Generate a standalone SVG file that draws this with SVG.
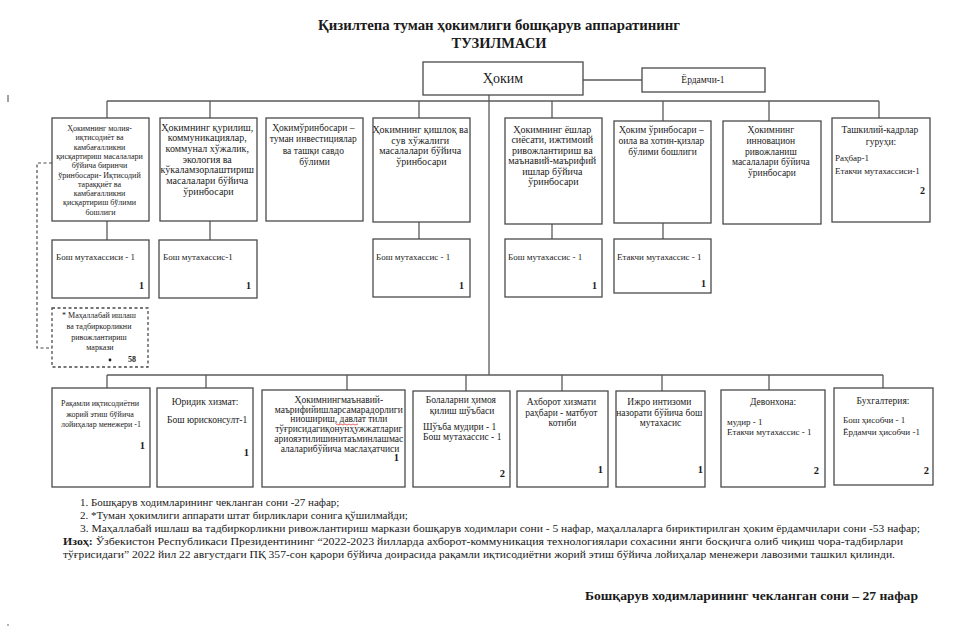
<svg xmlns="http://www.w3.org/2000/svg" width="978" height="638" viewBox="0 0 978 638" font-family="Liberation Serif, serif">
<style>
.bg{fill:#ffffff}
.box{fill:#ffffff;stroke:#4a4a4a;stroke-width:1.3}
.dbox{fill:#ffffff;stroke:#4a4a4a;stroke-width:1.3;stroke-dasharray:3,2.5}
.ln{stroke:#5a5a5a;stroke-width:1.3;fill:none}
.dln{stroke:#4a4a4a;stroke-width:1.2;fill:none;stroke-dasharray:3,2.5}
text{font-family:'Liberation Serif','Times New Roman',Times,serif;fill:#1a1a1a}
.c{text-anchor:middle}
.e{text-anchor:end}
.b{font-weight:bold}
.t{font-size:14.5px;font-weight:bold}
.f8{font-size:8px}
.f9{font-size:9px}
.f95{font-size:9.5px}
.f10{font-size:10px}
.n{font-size:11px}
</style>
<rect class="bg" x="0" y="0" width="978" height="638"/>
<line x1="8" y1="95" x2="8" y2="102" stroke="#444" stroke-width="1"/>
<circle cx="8" cy="625" r="0.8" fill="#555"/>

<g id="title">
<text class="t c" x="499" y="30" textLength="362" lengthAdjust="spacingAndGlyphs">Қизилтепа туман ҳокимлиги бошқарув аппаратининг</text>
<text class="t c" x="499" y="48">ТУЗИЛМАСИ</text>
</g>

<g id="connectors">
<line class="ln" x1="583" y1="80" x2="642" y2="80"/>
<line class="ln" x1="489" y1="95" x2="489" y2="375"/>
<line class="ln" x1="107" y1="101" x2="879" y2="101"/>
<line class="ln" x1="107" y1="101" x2="107" y2="118"/>
<line class="ln" x1="210" y1="101" x2="210" y2="118"/>
<line class="ln" x1="419" y1="101" x2="419" y2="118"/>
<line class="ln" x1="552" y1="101" x2="552" y2="118"/>
<line class="ln" x1="663" y1="101" x2="663" y2="121"/>
<line class="ln" x1="769" y1="101" x2="769" y2="121"/>
<line class="ln" x1="879" y1="101" x2="879" y2="118"/>
<line class="ln" x1="107" y1="221" x2="107" y2="240"/>
<line class="ln" x1="210" y1="221" x2="210" y2="240"/>
<line class="ln" x1="419" y1="222" x2="419" y2="239"/>
<line class="ln" x1="552" y1="224" x2="552" y2="239"/>
<line class="ln" x1="663" y1="223" x2="663" y2="239"/>
<line class="ln" x1="107" y1="375" x2="883" y2="375"/>
<line class="ln" x1="107" y1="375" x2="107" y2="388"/>
<line class="ln" x1="206" y1="375" x2="206" y2="388"/>
<line class="ln" x1="347" y1="375" x2="347" y2="390"/>
<line class="ln" x1="466" y1="375" x2="466" y2="391"/>
<line class="ln" x1="562" y1="375" x2="562" y2="391"/>
<line class="ln" x1="662" y1="375" x2="662" y2="391"/>
<line class="ln" x1="769" y1="375" x2="769" y2="390"/>
<line class="ln" x1="883" y1="375" x2="883" y2="388"/>
<polyline class="dln" points="52,163 37,163 37,348 52,348"/>
</g>

<g id="hokim">
<rect class="box" x="423" y="62" width="160" height="33"/>
<text class="c" x="503" y="83" style="font-size:14px">Ҳоким</text>
</g>
<g id="yordamchi">
<rect class="box" x="642" y="68" width="123" height="24"/>
<text class="c f95" x="703" y="83">Ёрдамчи-1</text>
</g>

<g id="t1">
<rect class="box" x="52" y="118" width="97" height="103"/>
<text class="c f8" x="100.5">
<tspan x="100.5" y="131">Ҳокимнинг молия-</tspan>
<tspan x="100.5" y="140.3">иқтисодиёт ва</tspan>
<tspan x="100.5" y="149.6">камбағалликни</tspan>
<tspan x="100.5" y="158.9">қисқартириш масалалари</tspan>
<tspan x="100.5" y="168.2">бўйича биринчи</tspan>
<tspan x="100.5" y="177.5">ўринбосари- Иқтисодий</tspan>
<tspan x="100.5" y="186.8">тараққиёт ва</tspan>
<tspan x="100.5" y="196.1">камбағалликни</tspan>
<tspan x="100.5" y="205.4">қисқартириш бўлими</tspan>
<tspan x="100.5" y="214.7">бошлиги</tspan>
</text>
</g>
<g id="t2">
<rect class="box" x="160" y="118" width="97" height="103"/>
<text class="c f10">
<tspan x="208.5" y="130.5">Ҳокимнинг қурилиш,</tspan>
<tspan x="208.5" y="141.2">коммуникациялар,</tspan>
<tspan x="208.5" y="151.9">коммунал хўжалик,</tspan>
<tspan x="208.5" y="162.6">экология ва</tspan>
<tspan x="208.5" y="173.3">кўкаламзорлаштириш</tspan>
<tspan x="208.5" y="184">масалалари бўйича</tspan>
<tspan x="208.5" y="194.7">ўринбосари</tspan>
</text>
</g>
<g id="t3">
<rect class="box" x="266" y="118" width="97" height="103"/>
<text class="c f95">
<tspan x="314.5" y="130.5">Ҳокимўринбосари –</tspan>
<tspan x="314.5" y="142">туман инвестициялар</tspan>
<tspan x="314.5" y="153.5">ва ташқи савдо</tspan>
<tspan x="314.5" y="165">бўлими</tspan>
</text>
</g>
<g id="t4">
<rect class="box" x="373" y="118" width="97" height="104"/>
<text class="c f10">
<tspan x="421.5" y="133">Ҳокимнинг қишлоқ ва</tspan>
<tspan x="421.5" y="143.7">сув хўжалиги</tspan>
<tspan x="421.5" y="154.4">масалалари бўйича</tspan>
<tspan x="421.5" y="165.1">ўринбосари</tspan>
</text>
</g>
<g id="t5">
<rect class="box" x="505" y="118" width="97" height="106"/>
<text class="c f10">
<tspan x="553.5" y="133">Ҳокимнинг ёшлар</tspan>
<tspan x="553.5" y="143.4">сиёсати, ижтимоий</tspan>
<tspan x="553.5" y="153.8">ривожлантириш ва</tspan>
<tspan x="553.5" y="164.2">маънавий-маърифий</tspan>
<tspan x="553.5" y="174.6">ишлар бўйича</tspan>
<tspan x="553.5" y="185">ўринбосари</tspan>
</text>
</g>
<g id="t6">
<rect class="box" x="614" y="121" width="97" height="102"/>
<text class="c f95">
<tspan x="662.5" y="133">Ҳоким ўринбосари –</tspan>
<tspan x="662.5" y="144">оила ва хотин-қизлар</tspan>
<tspan x="662.5" y="155">бўлими бошлиги</tspan>
</text>
</g>
<g id="t7">
<rect class="box" x="723" y="121" width="98" height="103"/>
<text class="c f95">
<tspan x="772" y="133">Ҳокимнинг</tspan>
<tspan x="772" y="143.8">инновацион</tspan>
<tspan x="772" y="154.6">ривожланиш</tspan>
<tspan x="772" y="165.4">масалалари бўйича</tspan>
<tspan x="772" y="176.2">ўринбосари</tspan>
</text>
</g>
<g id="t8">
<rect class="box" x="832" y="118" width="98" height="104"/>
<text class="c f95">
<tspan x="881" y="133">Ташкилий-кадрлар</tspan>
<tspan x="881" y="145">гуруҳи:</tspan>
</text>
<text class="f9">
<tspan x="835" y="161">Раҳбар-1</tspan>
<tspan x="835" y="174">Етакчи мутахассиси-1</tspan>
</text>
<text class="b e f10" x="925" y="194">2</text>
</g>

<g id="s1">
<rect class="box" x="52" y="240" width="97" height="58"/>
<text class="f9" x="56" y="260">Бош мутахассиси - 1</text>
<text class="b e f10" x="144" y="289">1</text>
</g>
<g id="s2">
<rect class="box" x="159" y="240" width="98" height="58"/>
<text class="f9" x="163" y="260">Бош мутахассис-1</text>
<text class="b e f10" x="251" y="289">1</text>
</g>
<g id="s4">
<rect class="box" x="373" y="239" width="97" height="58"/>
<text class="f9" x="376" y="260">Бош мутахассис - 1</text>
<text class="b e f10" x="464" y="289">1</text>
</g>
<g id="s5">
<rect class="box" x="505" y="239" width="97" height="58"/>
<text class="f9" x="508" y="260">Бош мутахассис - 1</text>
<text class="b e f10" x="597" y="289">1</text>
</g>
<g id="s6">
<rect class="box" x="614" y="239" width="97" height="54"/>
<text class="f9" x="617" y="260">Етакчи мутахассис - 1</text>
<text class="b e f10" x="706" y="287">1</text>
</g>

<g id="mahalla">
<rect class="dbox" x="52" y="308" width="96" height="59"/>
<text class="c f8">
<tspan x="100" y="318">* Маҳаллабай ишлаш</tspan>
<tspan x="100" y="329">ва тадбиркорликни</tspan>
<tspan x="100" y="340">ривожлантириш</tspan>
<tspan x="100" y="350">маркази</tspan>
</text>
<circle cx="110" cy="360" r="1.4" fill="#1a1a1a"/>
<text class="b f8" x="128" y="362">58</text>
</g>

<g id="b1">
<rect class="box" x="52" y="388" width="98" height="99"/>
<text class="c f8">
<tspan x="101" y="406">Рақамли иқтисодиётни</tspan>
<tspan x="101" y="417">жорий этиш бўйича</tspan>
<tspan x="101" y="427">лойиҳалар менежери -1</tspan>
</text>
<text class="b e" x="145" y="449" style="font-size:10.5px">1</text>
</g>
<g id="b2">
<rect class="box" x="157" y="388" width="96" height="99"/>
<text class="c f95" x="205" y="405">Юридик хизмат:</text>
<text class="f95" x="167" y="423">Бош юрисконсулт-1</text>
<text class="b e" x="249" y="456" style="font-size:10.5px">1</text>
</g>
<g id="b3">
<rect class="box" x="262" y="390" width="143" height="97"/>
<text class="c f95">
<tspan x="340" y="403">Ҳокимнингмаънавий-</tspan>
<tspan x="340" y="412.7">маърифийишларсамарадорлиги</tspan>
<tspan x="340" y="422.4">ниошириш, давлат тили</tspan>
<tspan x="340" y="432.1">тўғрисидагиқонунҳужжатлариг</tspan>
<tspan x="340" y="441.8">ариояэтилишинитаъминлашмас</tspan>
<tspan x="340" y="451.5">алаларибўйича маслаҳатчиси</tspan>
</text>
<path d="M336,424.5 q1,-1 2,0 t2,0 t2,0 t2,0 t2,0 t2,0 t2,0 t2,0 t2,0 t2,0 t2,0" fill="none" stroke="#d22" stroke-width="0.7"/>
<text class="b e" x="399" y="461" style="font-size:10.5px">1</text>
</g>
<g id="b4">
<rect class="box" x="413" y="391" width="97" height="96"/>
<text class="c f95">
<tspan x="462" y="403">Болаларни ҳимоя</tspan>
<tspan x="462" y="414">қилиш шўъбаси</tspan>
</text>
<text class="f95">
<tspan x="423" y="430">Шўъба мудири - 1</tspan>
<tspan x="423" y="440">Бош мутахассис - 1</tspan>
</text>
<text class="b e" x="505" y="477" style="font-size:10.5px">2</text>
</g>
<g id="b5">
<rect class="box" x="517" y="391" width="91" height="96"/>
<text class="c f95">
<tspan x="562.5" y="405">Ахборот хизмати</tspan>
<tspan x="562.5" y="415.5">раҳбари - матбуот</tspan>
<tspan x="562.5" y="426">котиби</tspan>
</text>
<text class="b e" x="603" y="473" style="font-size:10.5px">1</text>
</g>
<g id="b6">
<rect class="box" x="616" y="391" width="89" height="96"/>
<text class="c f95">
<tspan x="660.5" y="405">Ижро интизоми</tspan>
<tspan x="660.5" y="415.5">назорати бўйича бош</tspan>
<tspan x="660.5" y="426">мутахасис</tspan>
</text>
<text class="b e" x="703" y="473" style="font-size:10.5px">1</text>
</g>
<g id="b7">
<rect class="box" x="721" y="390" width="104" height="97"/>
<text class="c f95" x="773" y="405">Девонхона:</text>
<text class="f9">
<tspan x="727" y="425">мудир - 1</tspan>
<tspan x="727" y="435">Етакчи мутахассис - 1</tspan>
</text>
<text class="b e" x="819" y="474" style="font-size:10.5px">2</text>
</g>
<g id="b8">
<rect class="box" x="834" y="388" width="99" height="97"/>
<text class="c f95" x="883" y="404">Бухгалтерия:</text>
<text class="f9">
<tspan x="843" y="423">Бош ҳисобчи - 1</tspan>
<tspan x="843" y="435">Ёрдамчи ҳисобчи -1</tspan>
</text>
<text class="b e" x="929" y="474" style="font-size:10.5px">2</text>
</g>

<g id="notes">
<text class="n" x="80" y="506">1. Бошқарув ходимларининг чекланган сони -27 нафар;</text>
<text class="n" x="80" y="519">2. *Туман ҳокимлиги аппарати штат бирликлари сонига қўшилмайди;</text>
<text class="n" x="80" y="532" textLength="840" lengthAdjust="spacingAndGlyphs">3. Маҳаллабай ишлаш ва тадбиркорликни ривожлантириш маркази бошқарув ходимлари сони - 5 нафар, маҳаллаларга бириктирилган ҳоким ёрдамчилари сони -53 нафар;</text>
<text class="n" x="63" y="545" textLength="840" lengthAdjust="spacingAndGlyphs"><tspan class="b">Изоҳ:</tspan> Ўзбекистон Республикаси Президентининг “2022-2023 йилларда ахборот-коммуникация технологиялари сохасини янги босқичга олиб чиқиш чора-тадбирлари</text>
<text class="n" x="63" y="558" textLength="832" lengthAdjust="spacingAndGlyphs">тўғрисидаги” 2022 йил 22 августдаги ПҚ 357-сон қарори бўйича доирасида рақамли иқтисодиётни жорий этиш бўйича лойиҳалар менежери лавозими ташкил қилинди.</text>
</g>

<g id="footer">
<text class="b" x="585" y="600" style="font-size:12.5px" textLength="333" lengthAdjust="spacingAndGlyphs">Бошқарув ходимларининг чекланган сони – 27 нафар</text>
</g>
</svg>
